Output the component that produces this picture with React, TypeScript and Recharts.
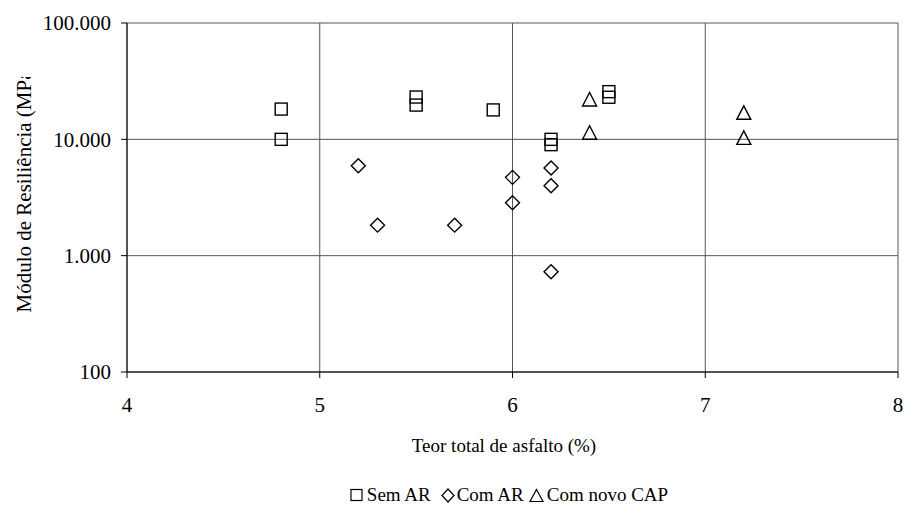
import React from "react";
import {
  ScatterChart,
  Scatter,
  XAxis,
  YAxis,
  CartesianGrid,
  Legend,
} from "recharts";

// Teor total de asfalto (%) x Módulo de Resiliência (MPa)
const semArX = [4.8, 4.8, 5.5, 5.5, 5.9, 6.2, 6.2, 6.5, 6.5];
const semArY = [18200, 10000, 23100, 19700, 17900, 10000, 9000, 25700, 23000];

const comArX = [5.2, 5.3, 5.7, 6.0, 6.0, 6.2, 6.2, 6.2];
const comArY = [5930, 1830, 1830, 4710, 2850, 5660, 3990, 728];

const novoCapX = [6.4, 6.4, 7.2, 7.2];
const novoCapY = [22000, 11400, 16900, 10300];

const xTicks = [4, 5, 6, 7, 8];
const yTicks = [100, 1000, 10000, 100000];

const FONT = "'Liberation Serif', 'Times New Roman', serif";

const toPoints = (xs: number[], ys: number[]) => xs.map((x, i) => ({ x, y: ys[i] }));

const semAr = toPoints(semArX, semArY);
const comAr = toPoints(comArX, comArY);
const novoCap = toPoints(novoCapX, novoCapY);

function fmt(v: number) {
  return String(v).replace(/\B(?=(\d{3})+(?!\d))/g, ".");
}

function Square(props: any) {
  const { cx, cy } = props;
  return <rect x={cx - 6} y={cy - 6} width={12} height={12} fill="none" stroke="#000" strokeWidth={1.4} />;
}

function Diamond(props: any) {
  const { cx, cy } = props;
  return (
    <path
      d={`M${cx},${cy - 7}L${cx + 7},${cy}L${cx},${cy + 7}L${cx - 7},${cy}Z`}
      fill="none"
      stroke="#000"
      strokeWidth={1.4}
    />
  );
}

function Triangle(props: any) {
  const { cx, cy } = props;
  return (
    <path
      d={`M${cx},${cy - 7}L${cx + 7},${cy + 6.5}L${cx - 7},${cy + 6.5}Z`}
      fill="none"
      stroke="#000"
      strokeWidth={1.4}
    />
  );
}

function YLabel() {
  const x = 31;
  const y = 188;
  return (
    <g clipPath="url(#ylabel-clip)">
      <defs>
        <clipPath id="ylabel-clip">
          <rect x={0} y={77} width={60} height={400} />
        </clipPath>
      </defs>
      <text
        x={x}
        y={y}
        transform={`rotate(-90 ${x} ${y})`}
        textAnchor="middle"
        fontFamily={FONT}
        fontSize={21}
        fill="#000"
      >
        Módulo de Resiliência (MPa)
      </text>
    </g>
  );
}

function XLabel() {
  return (
    <text x={504} y={452} textAnchor="middle" fontFamily={FONT} fontSize={19} fill="#000">
      Teor total de asfalto (%)
    </text>
  );
}

function LegendBox() {
  const item = (icon: React.ReactNode, label: string, w: number, gap: number, after: number) => (
    <span style={{ display: "inline-flex", alignItems: "center", marginRight: after }}>
      <svg width={w} height={15} style={{ marginRight: gap }}>
        {icon}
      </svg>
      {label}
    </span>
  );
  return (
    <div
      style={{
        height: 26,
        lineHeight: "26px",
        fontFamily: FONT,
        fontSize: 19,
        color: "#000",
        textAlign: "center",
        position: "relative",
        top: 3,
        left: 60,
        whiteSpace: "nowrap",
      }}
    >
      {item(<rect x={1} y={1.5} width={11} height={11} fill="none" stroke="#000" strokeWidth={1.2} />, "Sem AR", 13, 4, 10)}
      {item(<path d="M7,1L13,7.5L7,14L1,7.5Z" fill="none" stroke="#000" strokeWidth={1.2} />, "Com AR", 14, 2, 5)}
      {item(<path d="M7.5,1.5L14,13.5L1,13.5Z" fill="none" stroke="#000" strokeWidth={1.2} />, "Com novo CAP", 15, 3, 0)}
    </div>
  );
}

export default function App() {
  return (
    <div style={{ position: "absolute", left: 0, top: 0, background: "#fff" }}>
      <ScatterChart width={904} height={505} margin={{ top: 23, right: 6, bottom: 0, left: 0 }}>
        <CartesianGrid stroke="#555" strokeWidth={1} />
        <XAxis
          type="number"
          dataKey="x"
          domain={[4, 8]}
          ticks={xTicks}
          allowDataOverflow
          height={107}
          tickSize={6}
          tickMargin={19}
          stroke="#000"
          tick={{ fill: "#000", fontFamily: FONT, fontSize: 21 }}
          label={<XLabel />}
        />
        <YAxis
          type="number"
          dataKey="y"
          scale="log"
          domain={[100, 100000]}
          ticks={yTicks}
          allowDataOverflow
          width={127}
          tickSize={6}
          tickMargin={10}
          tickFormatter={fmt}
          stroke="#000"
          tick={{ fill: "#000", fontFamily: FONT, fontSize: 21 }}
          label={<YLabel />}
        />
        <Legend verticalAlign="bottom" content={() => <LegendBox />} />
        <Scatter name="Sem AR" data={semAr} shape={<Square />} isAnimationActive={false} />
        <Scatter name="Com AR" data={comAr} shape={<Diamond />} isAnimationActive={false} />
        <Scatter name="Com novo CAP" data={novoCap} shape={<Triangle />} isAnimationActive={false} />
      </ScatterChart>
    </div>
  );
}
